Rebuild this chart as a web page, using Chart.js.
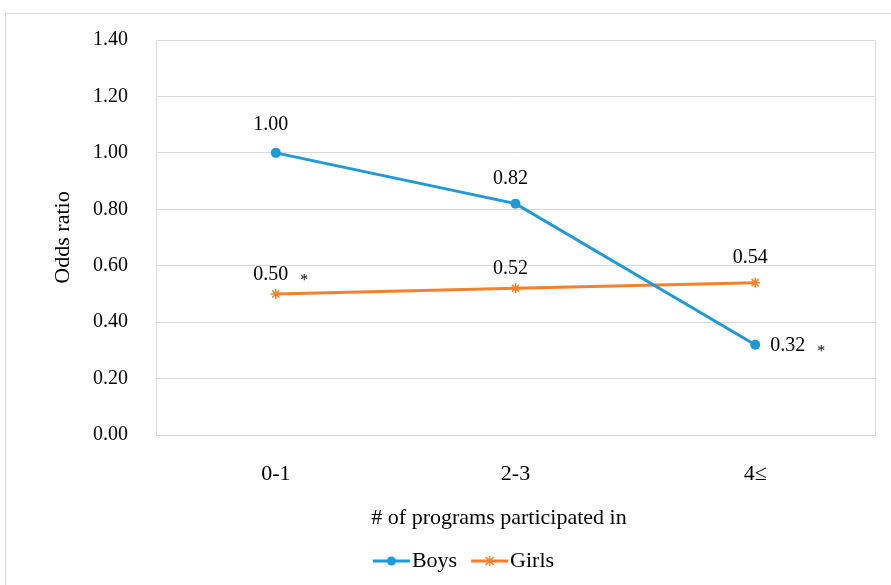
<!DOCTYPE html>
<html>
<head>
<meta charset="utf-8">
<script src="https://cdn.jsdelivr.net/npm/chart.js@4.4.0/dist/chart.umd.min.js"></script>
<style>
  html, body { margin: 0; padding: 0; background: #fff; }
  canvas { display: block; }
</style>
</head>
<body>
<canvas id="oddsChart" width="891" height="585"></canvas>
<script>
// chart data
var categories = ['0-1', '2-3', '4\u2264'];
var boysValues = [1.00, 0.82, 0.32];
var girlsValues = [0.50, 0.52, 0.54];
// significance marks (*) per point
var boysSig = [false, false, true];
var girlsSig = [true, false, false];
var yTicks = [0, 0.2, 0.4, 0.6, 0.8, 1.0, 1.2, 1.4];

var blue = '#1f9ad6';
var orange = '#f97f2a';
var serif = "'Times New Roman', 'Liberation Serif', serif";

// little line+marker picture for the legend (left part kept empty so the
// text sits close to the line)
function legendIcon(color, style) {
  var c = document.createElement('canvas');
  c.width = 50;
  c.height = 12;
  var g = c.getContext('2d');
  g.strokeStyle = color;
  g.fillStyle = color;
  g.lineWidth = 3;
  g.beginPath();
  g.moveTo(12, 6);
  g.lineTo(49, 6);
  g.stroke();
  if (style === 'circle') {
    g.beginPath();
    g.arc(30.5, 6, 4.5, 0, Math.PI * 2);
    g.fill();
  } else {
    g.lineWidth = 1.5;
    g.beginPath();
    g.moveTo(26.5, 2); g.lineTo(34.5, 10);
    g.moveTo(34.5, 2); g.lineTo(26.5, 10);
    g.moveTo(30.5, 1); g.lineTo(30.5, 11);
    g.stroke();
  }
  return c;
}
var icons = [legendIcon(blue, 'circle'), legendIcon(orange, 'star')];

// outer frame + plot area box
var framePlugin = {
  id: 'frame',
  beforeDraw: function (chart) {
    var ctx = chart.ctx;
    ctx.save();
    ctx.fillStyle = '#fff';
    ctx.fillRect(0, 0, chart.width, chart.height);
    ctx.strokeStyle = '#d9d9d9';
    ctx.lineWidth = 1;
    ctx.strokeRect(5.5, 13.5, chart.width + 10, chart.height + 10);
    ctx.restore();
  },
  beforeDatasetsDraw: function (chart) {
    var a = chart.chartArea;
    var ctx = chart.ctx;
    ctx.save();
    ctx.strokeStyle = '#d9d9d9';
    ctx.lineWidth = 1;
    ctx.strokeRect(Math.round(a.left) + 0.5, Math.round(a.top) + 0.5,
      Math.round(a.right - a.left), Math.round(a.bottom - a.top));
    ctx.restore();
  }
};

// value labels next to the points
var labelPlugin = {
  id: 'valueLabels',
  afterDatasetsDraw: function (chart) {
    var ctx = chart.ctx;
    ctx.save();
    ctx.fillStyle = '#000';
    ctx.textBaseline = 'middle';
    chart.data.datasets.forEach(function (ds, di) {
      var meta = chart.getDatasetMeta(di);
      meta.data.forEach(function (pt, i) {
        var txt = ds.data[i].toFixed(2);
        var x, y;
        ctx.font = '20px ' + serif;
        if (ds.labelPos[i] === 'right') {
          ctx.textAlign = 'left';
          x = pt.x + 15;
          y = pt.y + 1;
          ctx.fillText(txt, x, y);
          x += ctx.measureText(txt).width;
        } else {
          ctx.textAlign = 'center';
          x = pt.x - 5;
          y = pt.y + ds.labelDy[i];
          ctx.fillText(txt, x, y);
          x += ctx.measureText(txt).width / 2;
        }
        if (ds.sig[i]) {
          ctx.textAlign = 'left';
          ctx.font = '16px ' + serif;
          ctx.fillText('*', x + 12, y + 6);
        }
      });
    });
    ctx.restore();
  }
};

var chart = new Chart(document.getElementById('oddsChart'), {
  type: 'line',
  data: {
    labels: categories,
    datasets: [{
      label: 'Boys',
      data: boysValues,
      sig: boysSig,
      labelPos: ['top', 'top', 'right'],
      labelDy: [-28, -25, 0],
      borderColor: blue,
      backgroundColor: blue,
      borderWidth: 3,
      pointStyle: 'circle',
      pointRadius: 5,
      pointBorderWidth: 0,
      tension: 0
    }, {
      label: 'Girls',
      data: girlsValues,
      sig: girlsSig,
      labelPos: ['top', 'top', 'top'],
      labelDy: [-19, -20, -25],
      borderColor: orange,
      backgroundColor: orange,
      borderWidth: 3,
      pointStyle: 'star',
      pointRadius: 5,
      pointBorderWidth: 1.5,
      tension: 0
    }]
  },
  options: {
    responsive: false,
    animation: false,
    devicePixelRatio: 1,
    layout: {
      padding: { left: 50, right: 16, top: 40, bottom: 3 }
    },
    plugins: {
      tooltip: { enabled: false },
      legend: {
        position: 'bottom',
        labels: {
          color: '#000',
          font: { family: serif, size: 22 },
          usePointStyle: true,
          pointStyleWidth: 30,
          padding: 12,
          generateLabels: function (ch) {
            var items = Chart.defaults.plugins.legend.labels.generateLabels(ch);
            items.forEach(function (it, i) { it.pointStyle = icons[i]; });
            return items;
          }
        }
      }
    },
    scales: {
      x: {
        offset: true,
        grid: { display: false, drawTicks: false },
        border: { display: false },
        ticks: {
          color: '#000',
          font: { family: serif, size: 22 },
          padding: 26
        },
        title: {
          display: true,
          // trailing en spaces nudge the centred title a bit to the left, as in the original
          text: '# of programs participated in\u2002\u2002\u2002',
          color: '#000',
          font: { family: serif, size: 22 },
          padding: { top: 0, bottom: 7 }
        },
        afterFit: function (s) { s.height = 103; }
      },
      y: {
        min: 0,
        max: 1.4,
        afterBuildTicks: function (s) {
          s.ticks = yTicks.map(function (v) { return { value: v }; });
        },
        grid: { color: '#d9d9d9', drawTicks: false },
        border: { display: false },
        ticks: {
          color: '#000',
          font: { family: serif, size: 20 },
          padding: 28,
          callback: function (v) { return Number(v).toFixed(2); }
        },
        title: {
          display: true,
          text: 'Odds ratio',
          color: '#000',
          font: { family: serif, size: 22 },
          padding: { top: 0, bottom: 0 }
        },
        afterFit: function (s) { s.width = 106; }
      }
    }
  },
  plugins: [framePlugin, labelPlugin]
});
</script>
</body>
</html>
